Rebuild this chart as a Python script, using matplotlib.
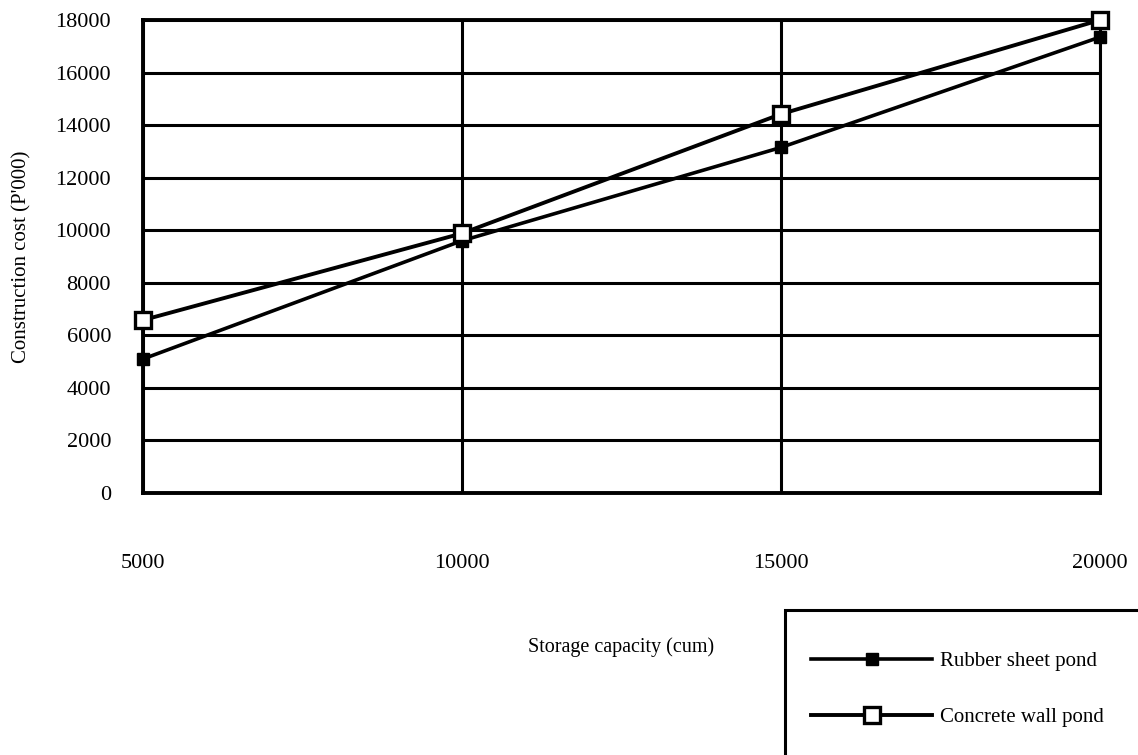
import matplotlib.pyplot as plt
from matplotlib.patches import Rectangle

plt.rcParams["font.family"] = ["Liberation Serif", "DejaVu Serif"]

# data
capacity = [5000, 10000, 15000, 20000]
rubber_cost = [5100, 9600, 13150, 17350]
concrete_cost = [6580, 9880, 14420, 18000]
y_ticks = list(range(0, 18001, 2000))

fig = plt.figure(figsize=(11.38, 7.55), dpi=100)
ax = fig.add_axes([143 / 1138, 1 - 493 / 755, (1100 - 143) / 1138, (493 - 20) / 755])

ax.plot(capacity, rubber_cost, color="black", lw=2.6, marker="s", ms=8,
        mfc="black", mec="black", label="Rubber sheet pond", zorder=3,
        clip_on=False)
ax.plot(capacity, concrete_cost, color="black", lw=2.8, marker="s", ms=12,
        mfc="white", mec="black", mew=2.4, label="Concrete wall pond",
        zorder=4, clip_on=False)

ax.set_xlim(5000, 20000)
ax.set_ylim(0, 18000)
ax.set_xticks(capacity)
ax.set_yticks(y_ticks)
ax.grid(True, color="black", lw=2.2)
ax.set_axisbelow(True)
for s in ["left", "bottom", "top"]:
    ax.spines[s].set_linewidth(2.8)
ax.spines["right"].set_linewidth(2.2)
ax.tick_params(axis="x", length=0, pad=44, labelsize=16)
ax.tick_params(axis="y", length=0, pad=23, labelsize=16)

ax.set_xlabel("Storage capacity (cum)", fontsize=14.5, labelpad=46)
ax.set_ylabel("Construction cost (P'000)", fontsize=15, labelpad=17)

# legend box runs off the bottom right corner
fig.patches.append(Rectangle((785 / 1138, -0.01), 0.4, (755 - 610) / 755 + 0.01,
                             transform=fig.transFigure, fill=False,
                             edgecolor="black", lw=2.2))
fig.legend(loc="upper left", bbox_to_anchor=(803 / 1138, 1 - 643 / 755),
           frameon=False, fontsize=15, handlelength=5.8, labelspacing=1.75,
           handletextpad=0.4, borderaxespad=0)

fig.savefig("out.png", dpi=100)
